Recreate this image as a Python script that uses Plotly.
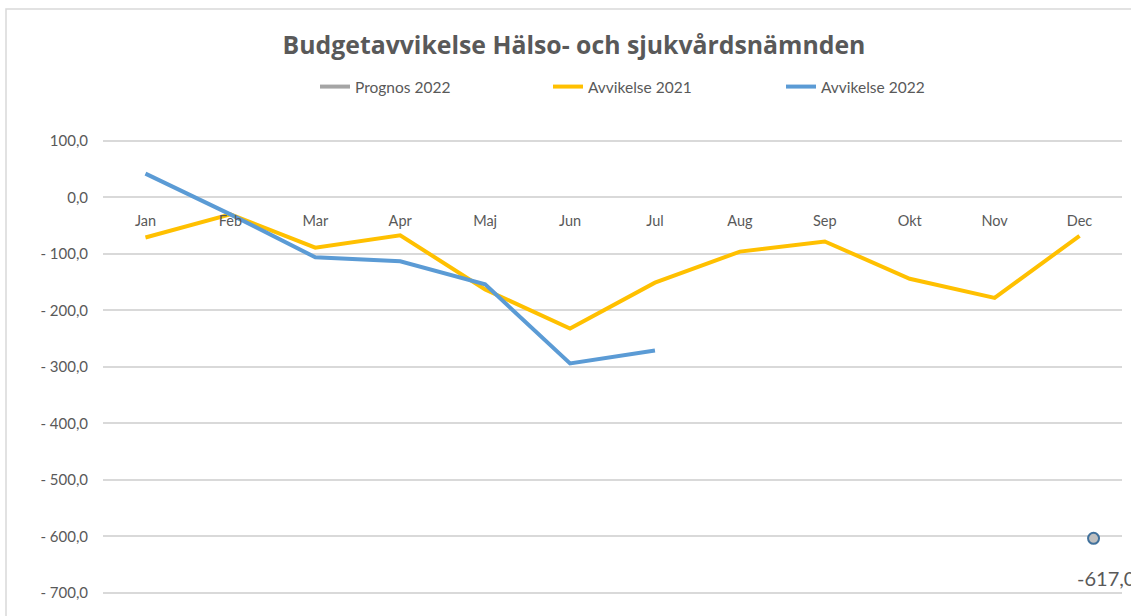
import plotly.graph_objects as go

months = ["Jan", "Feb", "Mar", "Apr", "Maj", "Jun", "Jul", "Aug", "Sep", "Okt", "Nov", "Dec"]
avv_2021 = [-71, -30, -89, -67, -163, -232, -151, -96, -78, -144, -178, -68]
avv_2022 = [42, -30, -106, -113, -154, -294, -271]
prognos_months = ["Dec"]
prognos_2022 = [-617]
y_ticks = [100, 0, -100, -200, -300, -400, -500, -600, -700]
y_ticktext = ["100,0", "0,0", "- 100,0", "- 200,0", "- 300,0", "- 400,0", "- 500,0", "- 600,0", "- 700,0"]

FONT = "Lato, 'Open Sans', sans-serif"
GREY_TXT = "#595959"
ymin, ymax = -741, 137
# secondary axes (Prognos series, as in the original chart's secondary axis)
x2_range = [-0.665, 11.335]
y2min, y2max = -754.5, 123.5

fig = go.Figure()
fig.add_trace(go.Scatter(x=[None], y=[None], name="Prognos 2022", mode="lines",
                         line=dict(color="#A5A5A5", width=4)))
fig.add_trace(go.Scatter(
    x=months, y=avv_2021, name="Avvikelse 2021", mode="lines",
    line=dict(color="#FFC000", width=4),
))
fig.add_trace(go.Scatter(
    x=months[:len(avv_2022)], y=avv_2022, name="Avvikelse 2022", mode="lines",
    line=dict(color="#5B9BD5", width=4),
))
fig.add_trace(go.Scatter(
    x=prognos_months, y=prognos_2022, name="Prognos 2022", mode="markers",
    xaxis="x2", yaxis="y2",
    marker=dict(size=11, color="#BFBFBF", line=dict(color="#41719C", width=2)),
    showlegend=False, cliponaxis=False,
))
for m, v in zip(prognos_months, prognos_2022):
    fig.add_annotation(x=m, y=v, xref="x2", yref="y2",
                       text=f"{v:.1f}".replace(".", ","), showarrow=False,
                       xanchor="left", yanchor="top", xshift=-19, yshift=-26,
                       font=dict(size=20, color=GREY_TXT, family=FONT))

fig.update_layout(
    width=1131, height=616, autosize=False,
    margin=dict(l=103, r=9, t=120, b=0),
    paper_bgcolor="white", plot_bgcolor="white",
    font=dict(family=FONT, color=GREY_TXT, size=14),
    title=dict(text="<b>Budgetavvikelse Hälso- och sjukvårdsnämnden</b>",
               x=(574 - 103) / 1019, xref="paper", xanchor="center",
               y=1 - 45 / 616, yanchor="middle",
               font=dict(size=24.8, color=GREY_TXT, family="'Open Sans', sans-serif")),
    legend=dict(orientation="h", x=(321 - 103 - 6) / 1019, xanchor="left",
                y=(616 - 87) / 496, yanchor="middle",
                entrywidth=188, entrywidthmode="pixels",
                font=dict(size=15.5, color=GREY_TXT), itemclick=False),
    showlegend=True,
    xaxis2=dict(type="category", categoryorder="array", categoryarray=months,
                range=x2_range, overlaying="x", visible=False),
    yaxis2=dict(range=[y2min, y2max], overlaying="y", visible=False),
)
fig.update_layout(xaxis=dict(
    type="category", categoryorder="array", categoryarray=months,
    range=[-0.5, 11.5], showgrid=False, showline=False, zeroline=False,
    ticks="", anchor="free", position=(0 - ymin) / (ymax - ymin),
    tickfont=dict(size=14.5, color=GREY_TXT), ticklabelstandoff=13,
))
fig.update_layout(yaxis=dict(
    range=[ymin, ymax], tickvals=y_ticks, ticktext=y_ticktext,
    showgrid=True, gridcolor="#D9D9D9", gridwidth=1.5, zeroline=False,
    showline=False, ticks="", tickfont=dict(size=15, color=GREY_TXT),
    ticklabelstandoff=14,
))
fig.add_shape(type="rect", xref="paper", yref="paper",
              x0=(6 - 103) / 1019, x1=1.2, y0=-0.2, y1=(616 - 9) / 496,
              line=dict(color="#D9D9D9", width=1.5), fillcolor="rgba(0,0,0,0)",
              layer="below")

fig.write_html("out.html", config={"displayModeBar": False},
               post_script="document.body.style.margin='0';document.body.style.overflow='hidden';")
